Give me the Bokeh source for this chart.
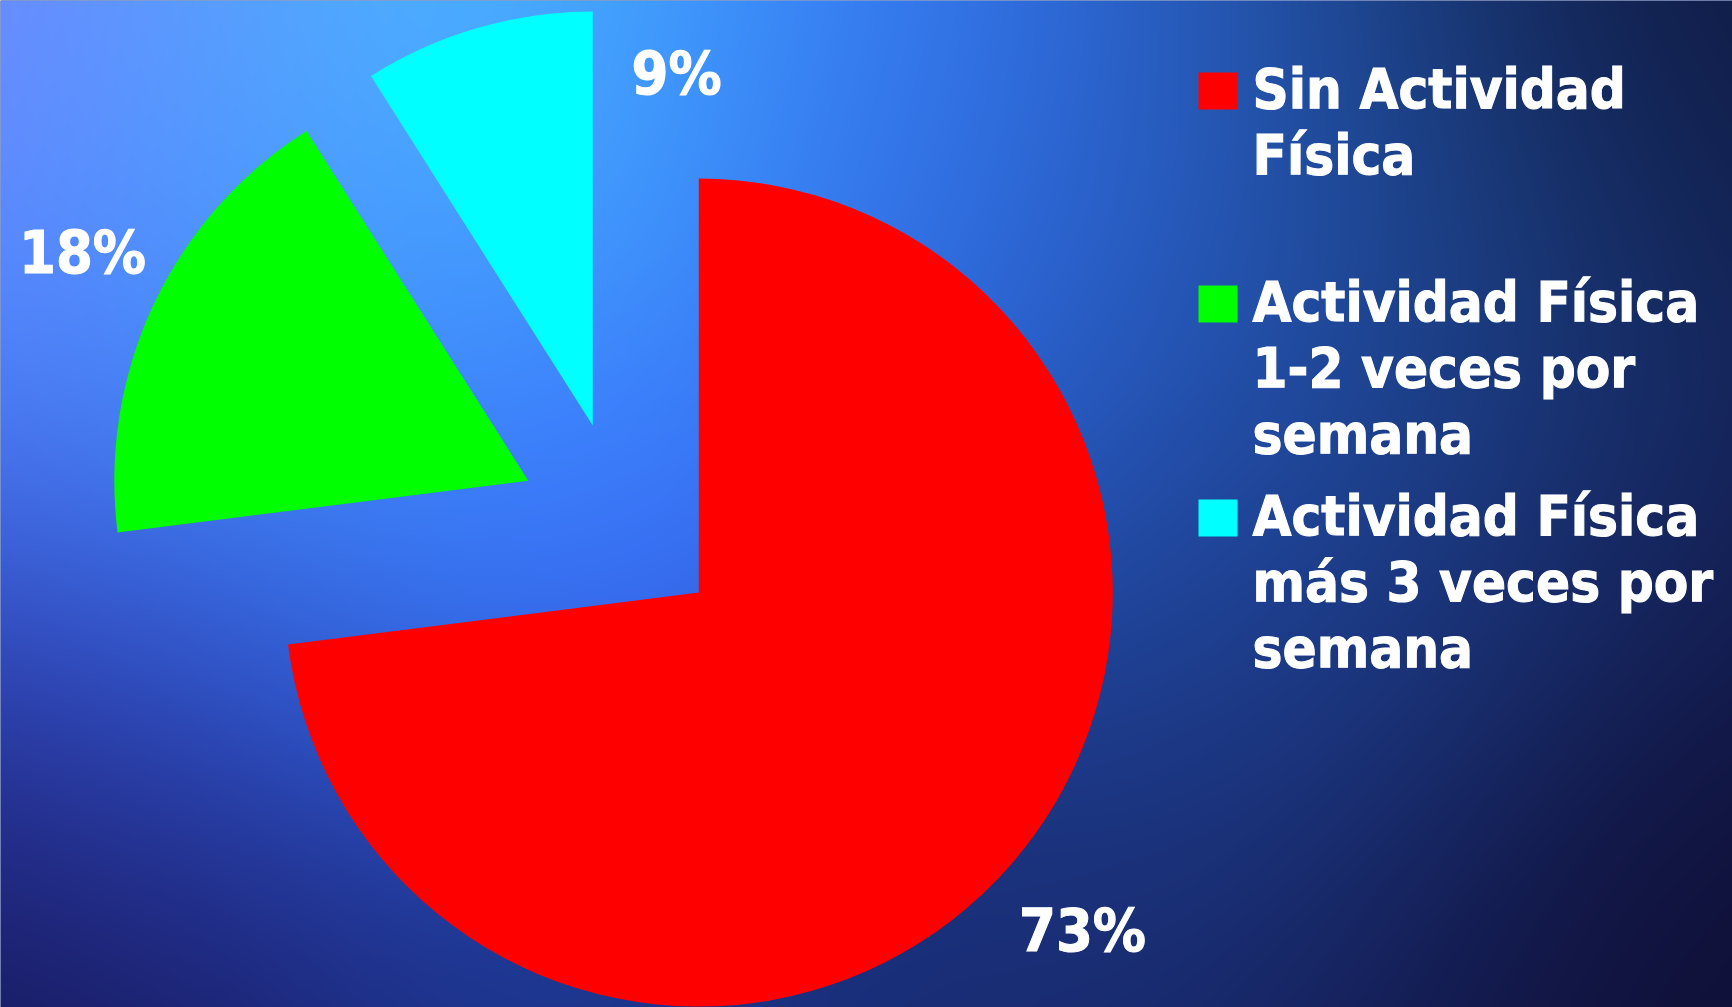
import numpy as np
from bokeh.plotting import figure
from bokeh.models import Range1d, ColumnDataSource
from bokeh.core.properties import value
from bokeh.embed import file_html
from bokeh.resources import INLINE

# ---------------- data ----------------
categories = ["Sin Actividad Física",
              "Actividad Física 1-2 veces por semana",
              "Actividad Física más 3 veces por semana"]
percent = [73, 18, 9]
slice_colors = ["#ff0000", "#00ff00", "#00ffff"]
legend_lines = [["Sin Actividad", "Física"],
                ["Actividad Física", "1-2 veces por", "semana"],
                ["Actividad Física", "más 3 veces por", "semana"]]
pct_labels = [f"{v}%" for v in percent]

# ---------------- layout (screen px of the 1732x1007 page) ----------------
W, H = 1732, 1007
CX, CY = 621, 524          # pie centre (screen)
R = 414                    # radius
EXPLODE = 103              # explode distance
label_pos = [(1082, 952), (82, 274), (676, 95)]   # centre x, baseline y
legend_text_x = 1252
legend_first_baseline = [109, 322, 536]
legend_step = 66
sq_x0, sq_w, sq_h = 1198, 39, 37
TEXT_FONT = "DejaVu Sans Condensed"
LEG_FS, PCT_FS = 56, 59
BASE_FIX = 0.375           # renderer baseline correction (fraction of font size)

def sy(y):  # screen y -> data y
    return H - y

p = figure(width=W, height=H,
           x_range=Range1d(0, W), y_range=Range1d(0, H),
           output_backend="svg", toolbar_location=None,
           x_axis_type=None, y_axis_type=None, min_border=0)
p.grid.visible = False
p.outline_line_color = None
p.background_fill_color = "#1a3a90"
p.border_fill_color = "#1a3a90"

# ---------------- background (decorative gradient) ----------------
anchors = [
    (0, 0, "#7a80ff"), (220, 30, "#50a4ff"), (500, 40, "#4cc4ff"), (770, 50, "#3a88ff"),
    (940, 110, "#3676f6"), (60, 380, "#5480ff"), (330, 330, "#409cff"), (560, 500, "#3a6eff"),
    (200, 660, "#2f66e6"), (40, 780, "#3434b0"), (110, 940, "#1a1e70"), (0, 1007, "#0c0c30"),
    (550, 1000, "#1c358c"), (1100, 170, "#2a62d2"), (1160, 440, "#2658c0"), (1215, 770, "#1e3c8c"),
    (1440, 280, "#1c4488"), (1660, 110, "#122050"), (1712, 550, "#141c50"), (1712, 940, "#10123a"),
    (1732, 0, "#0e1538"), (1732, 1007, "#0e0c30"), (1000, 1007, "#182a70"), (1400, 1000, "#141a50"),
    (1380, 600, "#1a3478"), (1300, 60, "#1e4a92"),
]
nx, ny = W // 2, H // 2
gx = (np.arange(nx) + 0.5) * W / nx
gy = H - (np.arange(ny) + 0.5) * H / ny
X, Y = np.meshgrid(gx, gy)
sig = 200.0
acc = np.zeros((ny, nx, 3))
wsum = np.zeros((ny, nx))
for ax, ay, col in anchors:
    w = np.exp(-((X - ax) ** 2 + (Y - ay) ** 2) / (2 * sig ** 2)) + 1e-12
    rgb = np.array([int(col[i:i + 2], 16) for i in (1, 3, 5)], dtype=float)
    acc += w[..., None] * rgb
    wsum += w
rgbimg = acc / wsum[..., None]
img = np.empty((ny, nx), dtype=np.uint32)
view = img.view(dtype=np.uint8).reshape((ny, nx, 4))
view[..., 0:3] = np.clip(rgbimg, 0, 255).astype(np.uint8)
view[..., 3] = 255
p.image_rgba(image=[img], x=0, y=0, dw=W, dh=H)

# ---------------- pie ----------------
vals = np.array(percent, dtype=float)
frac = vals / vals.sum()
cum = np.concatenate([[0], np.cumsum(frac)])
start_cw = np.pi / 2 - 2 * np.pi * cum[:-1]
end_cw = np.pi / 2 - 2 * np.pi * cum[1:]
mid = (start_cw + end_cw) / 2
wx = CX + EXPLODE * np.cos(mid)
wy = sy(CY) + EXPLODE * np.sin(mid)
src = ColumnDataSource(dict(x=wx, y=wy, start=end_cw, end=start_cw, color=slice_colors,
                            cat=categories))
p.wedge(x="x", y="y", radius=R, start_angle="start", end_angle="end",
        direction="anticlock", fill_color="color", line_color=None, source=src)

# percent labels
p.text(x=[lp[0] for lp in label_pos],
       y=[sy(lp[1] - BASE_FIX * PCT_FS) for lp in label_pos], text=pct_labels,
       text_font=value(TEXT_FONT), text_font_style="bold", text_font_size=f"{PCT_FS}px",
       text_color="white", text_outline_color="white",
       text_align="center", text_baseline="alphabetic")

# ---------------- legend ----------------
lx, ly, lt = [], [], []
for gi, lines in enumerate(legend_lines):
    for li, t in enumerate(lines):
        lx.append(legend_text_x)
        ly.append(sy(legend_first_baseline[gi] + li * legend_step - BASE_FIX * LEG_FS))
        lt.append(t)
p.text(x=lx, y=ly, text=lt, text_font=value(TEXT_FONT), text_font_style="bold",
       text_font_size=f"{LEG_FS}px", text_color="white", text_outline_color="white",
       text_align="left", text_baseline="alphabetic")
p.rect(x=[sq_x0 + sq_w / 2] * len(categories),
       y=[sy(b - sq_h / 2) for b in legend_first_baseline],
       width=sq_w, height=sq_h, fill_color=slice_colors, line_color=None)

open("out.html", "w").write(file_html(p, INLINE))
